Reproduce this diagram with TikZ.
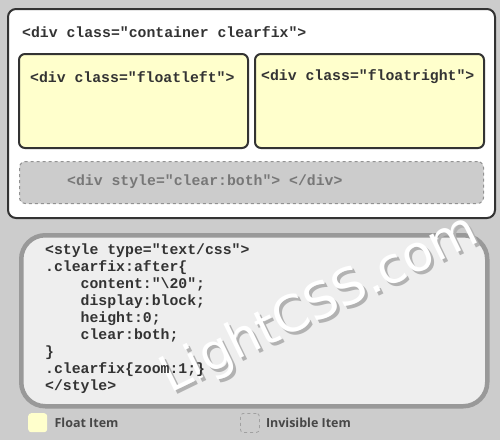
\documentclass[tikz,border=0pt]{standalone}
\usepackage{fontspec}
\setmainfont{Open Sans}
\setmonofont{Liberation Mono}
\newfontfamily\markfont{DejaVu Sans}
\usepackage{tikz}
\definecolor{pagegray}{HTML}{CCCCCC}
\definecolor{inkdark}{HTML}{333333}
\definecolor{floatyellow}{HTML}{FFFFCC}
\definecolor{codefill}{HTML}{EEEEEE}
\definecolor{codeborder}{HTML}{999999}
\definecolor{softgray}{HTML}{777777}
\usetikzlibrary{positioning, calc, shadows}

\begin{document}
\begin{tikzpicture}[x=1pt, y=-1pt,
    box/.style={draw=inkdark, line width=2pt, rounded corners=#1, inner sep=0pt, anchor=north west},
    floatbox/.style={box=6pt, fill=floatyellow, minimum width=229pt, minimum height=94pt},
    code/.style={font=\ttfamily\bfseries\fontsize{14.8}{16.9}\selectfont, text=inkdark, anchor=west, inner sep=0pt},
    legendtext/.style={font=\fontsize{12.5}{14}\selectfont\bfseries, text=inkdark!90, anchor=west, inner sep=0pt},
    swatch/.style={minimum size=19pt, inner sep=0pt, rounded corners=3pt, anchor=north west},
    watermark/.style={font=\markfont\fontsize{50}{50}\selectfont, rotate=26, inner sep=0pt}
]
    \useasboundingbox[fill=pagegray] (0,0) rectangle (500,440);

    % html part
    \node[box=8pt, fill=white, minimum width=487pt, minimum height=209pt] (outer) at (7,8) {};
    \node[code] (outertxt) at (22,32) {<div class="container clearfix">};

    \node[floatbox] (fleft) at (18,53) {};
    \node[floatbox] (fright) at (254,53) {};
    \node[code] (flefttxt) at (30,77) {<div class="floatleft">};
    \node[code] (frighttxt) at (261,77) {<div class="floatright">};

    \node[box=6pt, draw=softgray!80, line width=1pt, dashed, fill=pagegray,
          minimum width=464pt, minimum height=42pt] (clearer) at (19,161) {};
    \node[code, text=softgray] (clearertxt) at (67,182) {<div style="clear:both"> </div>};

    % css part
    \node[box=24pt, draw=codeborder, line width=4.5pt, fill=codefill,
          minimum width=466pt, minimum height=171pt] (cssbox) at (19,233) {};

    % watermark behind the code
    \node[watermark, text=gray!60] (markshadow) at (323,308) {LightCSS.com};
    \node[watermark, text=white] (mark) at (320,305) {LightCSS.com};

    \node[code, anchor=north west, align=left] (csstxt) at (45,244) {%
        <style type="text/css">\\
        .clearfix:after\{\\
        \phantom{xxxx}content:"\textbackslash 20";\\
        \phantom{xxxx}display:block;\\
        \phantom{xxxx}height:0;\\
        \phantom{xxxx}clear:both;\\
        \}\\
        .clearfix\{zoom:1;\}\\
        </style>};

    % legend
    \node[swatch, fill=floatyellow] (keyfloat) at (28,413) {};
    \node[legendtext, right=7pt of keyfloat] {Float Item};
    \node[swatch, draw=softgray!70, dashed, line width=0.8pt] (keyhide) at (240,413) {};
    \node[legendtext, right=6pt of keyhide] {Invisible Item};
\end{tikzpicture}
\end{document}
